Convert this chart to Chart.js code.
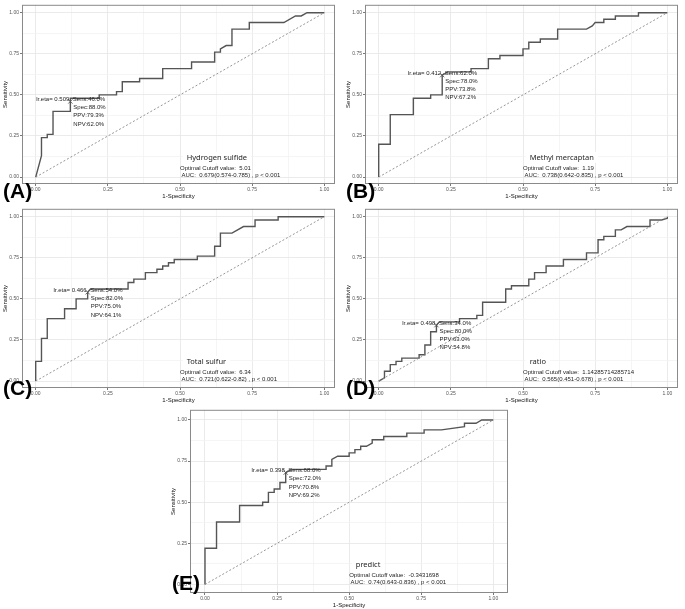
<!DOCTYPE html>
<html>
<head>
<meta charset="utf-8">
<script src="https://cdn.jsdelivr.net/npm/chart.js@4.4.0/dist/chart.umd.min.js"></script>
<style>
    body { margin: 0; background: #fff; width: 685px; height: 609px; position: relative; overflow: hidden; }
    .panel { position: absolute; }
    .letter { position: absolute; font: bold 21px "Liberation Sans", Arial, sans-serif; color: #000; line-height: 21px; }
</style>
</head>
<body>
<script>
// ROC curves (x = 1-Specificity, y = Sensitivity)
const fprA = [0, 0.02, 0.02, 0.04, 0.04, 0.06, 0.06, 0.12, 0.12, 0.12, 0.22, 0.22, 0.28, 0.28, 0.30, 0.30, 0.36, 0.36, 0.44, 0.44, 0.54, 0.54, 0.62, 0.62, 0.64, 0.64, 0.66, 0.68, 0.68, 0.74, 0.74, 0.86, 0.90, 0.92, 0.94, 1.00];
const tprA = [0, 0.13, 0.24, 0.24, 0.26, 0.26, 0.40, 0.40, 0.46, 0.48, 0.48, 0.50, 0.50, 0.52, 0.52, 0.58, 0.58, 0.60, 0.60, 0.66, 0.66, 0.70, 0.70, 0.76, 0.76, 0.78, 0.80, 0.80, 0.90, 0.90, 0.94, 0.94, 0.98, 0.98, 1.00, 1.00];

const fprB = [0, 0, 0.04, 0.04, 0.12, 0.12, 0.18, 0.18, 0.22, 0.22, 0.24, 0.32, 0.32, 0.38, 0.38, 0.42, 0.42, 0.50, 0.50, 0.52, 0.52, 0.56, 0.56, 0.62, 0.62, 0.72, 0.74, 0.75, 0.78, 0.78, 0.82, 0.82, 0.90, 0.90, 1.00];
const tprB = [0, 0.20, 0.20, 0.38, 0.38, 0.48, 0.48, 0.50, 0.50, 0.62, 0.64, 0.64, 0.66, 0.66, 0.72, 0.72, 0.74, 0.74, 0.78, 0.78, 0.82, 0.82, 0.84, 0.84, 0.90, 0.90, 0.92, 0.94, 0.94, 0.96, 0.96, 0.98, 0.98, 1.00, 1.00];

const fprC = [0, 0, 0.02, 0.02, 0.04, 0.04, 0.10, 0.10, 0.14, 0.14, 0.18, 0.18, 0.19, 0.32, 0.32, 0.34, 0.34, 0.38, 0.38, 0.42, 0.42, 0.44, 0.44, 0.46, 0.46, 0.48, 0.48, 0.56, 0.56, 0.62, 0.62, 0.64, 0.64, 0.68, 0.72, 0.76, 0.76, 0.84, 0.84, 1.00];
const tprC = [0, 0.12, 0.12, 0.26, 0.26, 0.38, 0.38, 0.44, 0.44, 0.50, 0.50, 0.54, 0.56, 0.56, 0.60, 0.60, 0.62, 0.62, 0.66, 0.66, 0.68, 0.68, 0.70, 0.70, 0.72, 0.72, 0.74, 0.74, 0.76, 0.76, 0.82, 0.82, 0.90, 0.90, 0.94, 0.94, 0.98, 0.98, 1.00, 1.00];

const fprD = [0, 0.02, 0.02, 0.04, 0.04, 0.06, 0.06, 0.08, 0.08, 0.14, 0.14, 0.16, 0.16, 0.18, 0.18, 0.20, 0.20, 0.21, 0.28, 0.28, 0.34, 0.34, 0.36, 0.36, 0.44, 0.44, 0.46, 0.46, 0.52, 0.52, 0.54, 0.54, 0.58, 0.58, 0.64, 0.64, 0.72, 0.72, 0.76, 0.76, 0.78, 0.78, 0.82, 0.82, 0.84, 0.86, 0.94, 0.94, 0.98, 1.00, 1.00];
const tprD = [0, 0.02, 0.06, 0.06, 0.10, 0.10, 0.12, 0.12, 0.14, 0.14, 0.16, 0.16, 0.22, 0.22, 0.30, 0.30, 0.34, 0.36, 0.36, 0.38, 0.38, 0.40, 0.40, 0.48, 0.48, 0.56, 0.56, 0.58, 0.58, 0.62, 0.62, 0.66, 0.66, 0.70, 0.70, 0.74, 0.74, 0.78, 0.78, 0.86, 0.86, 0.88, 0.88, 0.92, 0.92, 0.94, 0.94, 0.98, 0.98, 0.99, 1.00];

const fprE = [0, 0, 0.04, 0.04, 0.12, 0.12, 0.20, 0.20, 0.22, 0.22, 0.24, 0.24, 0.26, 0.26, 0.28, 0.28, 0.30, 0.42, 0.42, 0.44, 0.44, 0.46, 0.50, 0.50, 0.52, 0.52, 0.54, 0.54, 0.56, 0.58, 0.58, 0.62, 0.62, 0.70, 0.70, 0.76, 0.76, 0.82, 0.90, 0.90, 0.94, 0.96, 1.00];
const tprE = [0, 0.22, 0.22, 0.38, 0.38, 0.48, 0.48, 0.50, 0.50, 0.56, 0.56, 0.58, 0.58, 0.62, 0.62, 0.68, 0.70, 0.70, 0.72, 0.72, 0.76, 0.78, 0.78, 0.80, 0.80, 0.82, 0.82, 0.84, 0.84, 0.86, 0.88, 0.88, 0.90, 0.90, 0.92, 0.92, 0.94, 0.94, 0.96, 0.98, 0.98, 1.00, 1.00];

const panelLetters = ['(A)', '(B)', '(C)', '(D)', '(E)'];
const panelTitles = ['Hydrogen sulfide', 'Methyl mercaptan', 'Total sulfur', 'ratio', 'predict'];
const etaLabels = ['0.509', '0.412', '0.466', '0.498', '0.398'];
const sensValues = [46.0, 62.0, 54.0, 34.0, 68.0];
const specValues = [88.0, 78.0, 82.0, 80.0, 72.0];
const ppvValues = [79.3, 73.8, 75.0, 63.0, 70.8];
const npvValues = [62.0, 67.2, 64.1, 54.8, 69.2];
const cutoffLabels = ['5.01', '1.19', '6.34', '1.14285714285714', '-0.3431698'];
const aucLabels = ['0.679(0.574-0.785)', '0.738(0.642-0.835)', '0.721(0.622-0.82)', '0.565(0.451-0.678)', '0.74(0.643-0.836)'];
const tickValues = [0, 0.125, 0.25, 0.375, 0.5, 0.625, 0.75, 0.875, 1];

const curves = [[fprA, tprA], [fprB, tprB], [fprC, tprC], [fprD, tprD], [fprE, tprE]];

// where each panel sits on the page
const layouts = [
    { left: 0,   top: 0,   width: 340, height: 200, xr: [-0.0475, 1.037], yr: [-0.042, 1.048], letter: [3, 180] },
    { left: 343, top: 0,   width: 340, height: 200, xr: [-0.0475, 1.037], yr: [-0.042, 1.048], letter: [346, 180] },
    { left: 0,   top: 204, width: 340, height: 200, xr: [-0.0475, 1.037], yr: [-0.042, 1.048], letter: [3, 377] },
    { left: 343, top: 204, width: 340, height: 200, xr: [-0.0475, 1.037], yr: [-0.042, 1.048], letter: [346, 377] },
    { left: 168, top: 405, width: 345, height: 204, xr: [-0.052, 1.051],  yr: [-0.052, 1.062], letter: [172, 572] }
];

const panelDecor = {
    id: 'panelDecor',
    afterDatasetsDraw(chart, args, opts) {
        const i = opts.index;
        const { ctx, chartArea: a, scales: { x, y } } = chart;
        ctx.save();

        // panel border
        ctx.strokeStyle = '#8a8a8a';
        ctx.lineWidth = 1;
        ctx.strokeRect(a.left + 0.5, a.top + 0.5, a.right - a.left - 1, a.bottom - a.top - 1);

        // optimal threshold annotation
        const px = x.getPixelForValue(1 - specValues[i] / 100);
        const py = y.getPixelForValue(sensValues[i] / 100);
        ctx.fillStyle = '#1e1e1e';
        ctx.font = '6px "Liberation Sans", Arial, sans-serif';
        ctx.textBaseline = 'middle';
        ctx.textAlign = 'right';
        ctx.fillText('lr.eta= ' + etaLabels[i], px - 1, py - 2.3);
        ctx.textAlign = 'left';
        ctx.fillText('Sens:' + sensValues[i].toFixed(1) + '%', px + 2.5, py - 2.3);
        ctx.fillText('Spec:' + specValues[i].toFixed(1) + '%', px + 3, py + 6);
        ctx.fillText('PPV:' + ppvValues[i].toFixed(1) + '%', px + 3, py + 14.3);
        ctx.fillText('NPV:' + npvValues[i].toFixed(1) + '%', px + 3, py + 22.6);

        // title + cutoff + AUC block
        const tx = x.getPixelForValue(0.523), ty = y.getPixelForValue(0.12);
        ctx.font = '7.5px "Noto Sans", "DejaVu Sans", sans-serif';
        const tw = ctx.measureText(panelTitles[i]).width;
        ctx.fillStyle = '#fff';
        ctx.fillRect(tx - 4, ty - 5.5, tw + 8, 11);
        ctx.fillStyle = '#1e1e1e';
        ctx.fillText(panelTitles[i], tx, ty);
        ctx.font = '6px "Liberation Sans", Arial, sans-serif';
        ctx.fillText('Optimal Cutoff value:  ' + cutoffLabels[i], x.getPixelForValue(0.50), y.getPixelForValue(0.055));
        ctx.fillText('AUC:  ' + aucLabels[i] + ' , p < 0.001', x.getPixelForValue(0.505), y.getPixelForValue(0.01));
        ctx.restore();
    }
};

function axisOptions(range, title, horizontal) {
    return {
        type: 'linear',
        min: range[0],
        max: range[1],
        afterBuildTicks: axis => { axis.ticks = tickValues.map(v => ({ value: v })); },
        afterFit: scale => {
            if (horizontal) scale.height = 16; else scale.width = 22;
        },
        grid: {
            color: ctx => (ctx.tick && ctx.tick.value % 0.25 === 0) ? '#e6e6e6' : '#f2f2f2',
            lineWidth: 0.8,
            tickLength: 2,
            tickColor: ctx => (ctx.tick && ctx.tick.value % 0.25 === 0) ? '#555' : 'rgba(0,0,0,0)'
        },
        border: { display: false },
        ticks: {
            autoSkip: false,
            maxRotation: 0,
            minRotation: 0,
            padding: 1,
            color: '#555',
            font: { family: '"Liberation Sans", Arial, sans-serif', size: 5 },
            callback: v => v % 0.25 === 0 ? v.toFixed(2) : ''
        },
        title: {
            display: true,
            text: title,
            color: '#111',
            padding: horizontal ? { top: 0, bottom: 0 } : { top: 2, bottom: 0 },
            font: { family: '"Liberation Sans", Arial, sans-serif', size: 6 }
        }
    };
}

function drawPanel(i) {
    const lay = layouts[i];
    const box = document.createElement('div');
    box.className = 'panel';
    box.style.left = lay.left + 'px';
    box.style.top = lay.top + 'px';
    box.style.width = lay.width + 'px';
    box.style.height = lay.height + 'px';
    const canvas = document.createElement('canvas');
    box.appendChild(canvas);
    document.body.appendChild(box);

    const [fpr, tpr] = curves[i];
    const rocPoints = fpr.map((v, k) => ({ x: v, y: tpr[k] }));

    new Chart(canvas.getContext('2d'), {
        type: 'scatter',
        data: {
            datasets: [
                {
                    data: [{ x: 0, y: 0 }, { x: 1, y: 1 }],
                    showLine: true,
                    borderColor: '#8a8a8a',
                    borderWidth: 0.9,
                    borderDash: [2, 2],
                    pointRadius: 0
                },
                {
                    data: rocPoints,
                    showLine: true,
                    borderColor: '#555',
                    borderWidth: 1.4,
                    pointRadius: 0
                },
                {
                    data: [{ x: 1 - specValues[i] / 100, y: sensValues[i] / 100 }],
                    pointStyle: 'crossRot',
                    pointRadius: 3,
                    borderColor: '#444',
                    borderWidth: 0.8
                }
            ]
        },
        options: {
            responsive: true,
            maintainAspectRatio: false,
            animation: false,
            layout: { padding: { top: 3, right: 5, left: 0, bottom: 0 } },
            plugins: {
                legend: { display: false },
                tooltip: { enabled: false },
                panelDecor: { index: i }
            },
            scales: {
                x: axisOptions(lay.xr, '1-Specificity', true),
                y: axisOptions(lay.yr, 'Sensitivity', false)
            }
        },
        plugins: [panelDecor]
    });

    const letter = document.createElement('div');
    letter.className = 'letter';
    letter.style.left = lay.letter[0] + 'px';
    letter.style.top = lay.letter[1] + 'px';
    letter.textContent = panelLetters[i];
    document.body.appendChild(letter);
}

for (let i = 0; i < 5; i++) drawPanel(i);
</script>
</body>
</html>
